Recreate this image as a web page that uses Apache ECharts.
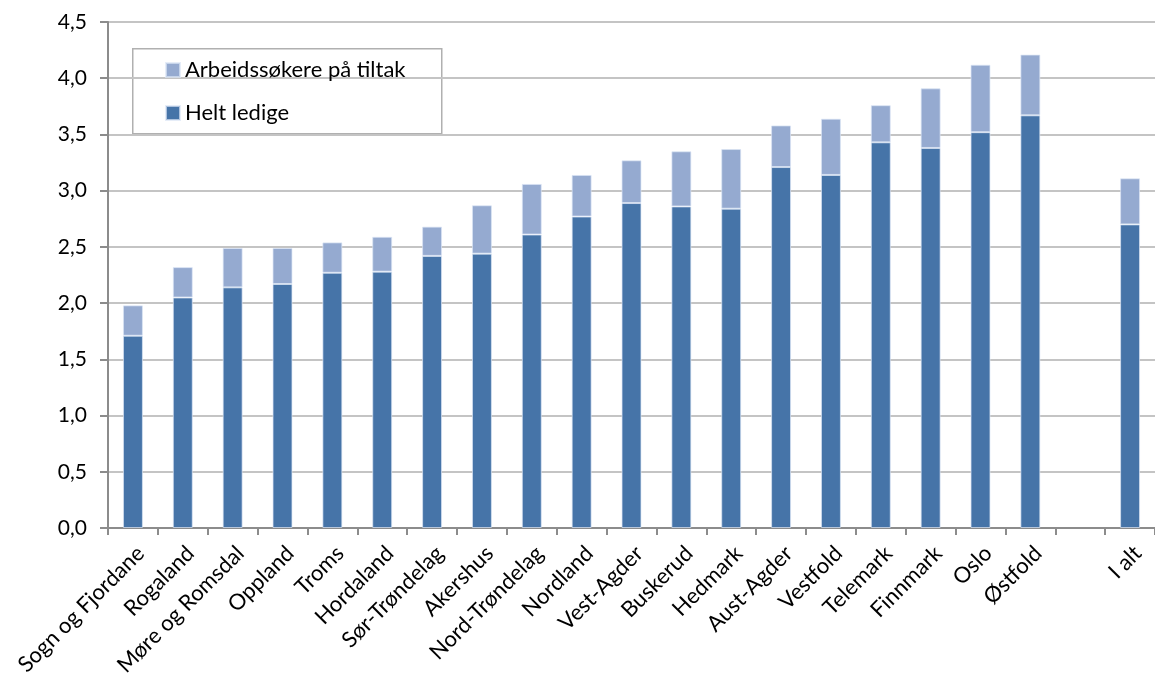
<!DOCTYPE html>
<html>
<head>
<meta charset="utf-8">
<script src="https://cdn.jsdelivr.net/npm/echarts@6/dist/echarts.min.js"></script>
<style>html,body{margin:0;padding:0;background:#fff}#c{width:1155px;height:679px}</style>
</head>
<body>
<div id="c"></div>
<script>
const categories = ['Sogn og Fjordane','Rogaland','Møre og Romsdal','Oppland','Troms','Hordaland','Sør-Trøndelag','Akershus','Nord-Trøndelag','Nordland','Vest-Agder','Buskerud','Hedmark','Aust-Agder','Vestfold','Telemark','Finnmark','Oslo','Østfold','','I alt'];
const heltLedige = [1.71,2.05,2.14,2.17,2.27,2.28,2.42,2.44,2.61,2.77,2.89,2.86,2.84,3.21,3.14,3.43,3.38,3.52,3.67,null,2.70];
const tiltak = [0.27,0.27,0.35,0.32,0.27,0.31,0.26,0.43,0.45,0.37,0.38,0.49,0.53,0.37,0.50,0.33,0.53,0.60,0.54,null,0.41];
const yTicks = [0,0.5,1,1.5,2,2.5,3,3.5,4,4.5];

const FONT = 'Lato';
const chart = echarts.init(document.getElementById('c'), null, {renderer:'canvas'});
chart.setOption({
  animation:false,
  textStyle:{fontFamily:FONT},
  grid:{left:108, right:-11, top:22, bottom:151, containLabel:false},
  legend:{
    orient:'vertical', left:160, top:54, itemGap:21, itemWidth:14, itemHeight:14,
    icon:'rect',
    data:['Arbeidssøkere på tiltak','Helt ledige'],
    textStyle:{fontFamily:FONT, fontSize:22, color:'#000'}
  },
  graphic:[{type:'rect', left:132, top:48, shape:{width:309, height:85}, style:{fill:'#fff', stroke:'#b0b0b0', lineWidth:1.5}, z:-1}],
  xAxis:{
    type:'category', data:categories, boundaryGap:true,
    axisLine:{lineStyle:{color:'#8c8c8c', width:2}},
    axisTick:{show:true, length:7, lineStyle:{color:'#8c8c8c', width:2}, interval:0},
    axisLabel:{interval:0, rotate:45, fontSize:22, color:'#000', fontFamily:FONT, margin:14, verticalAlign:'top'}
  },
  yAxis:{
    type:'value', min:0, max:4.5, interval:0.5,
    axisLine:{show:true, lineStyle:{color:'#8c8c8c', width:2}},
    axisTick:{show:true, length:8, lineStyle:{color:'#8c8c8c', width:2}},
    splitLine:{lineStyle:{color:'#c4c4c4', width:2}},
    axisLabel:{fontSize:21, color:'#000', fontFamily:FONT, margin:21,
      formatter:v=>v.toFixed(1).replace('.',',')}
  },
  series:[
    {name:'Helt ledige', type:'bar', stack:'s', data:heltLedige, barCategoryGap:'60%',
      itemStyle:{color:'#4674a8', borderColor:'rgba(220,230,245,0.7)', borderWidth:1}},
    {name:'Arbeidssøkere på tiltak', type:'bar', stack:'s', data:tiltak, barCategoryGap:'60%',
      itemStyle:{color:'#95aad0', borderColor:'rgba(220,230,245,0.7)', borderWidth:1}}
  ]
});
</script>
</body>
</html>
